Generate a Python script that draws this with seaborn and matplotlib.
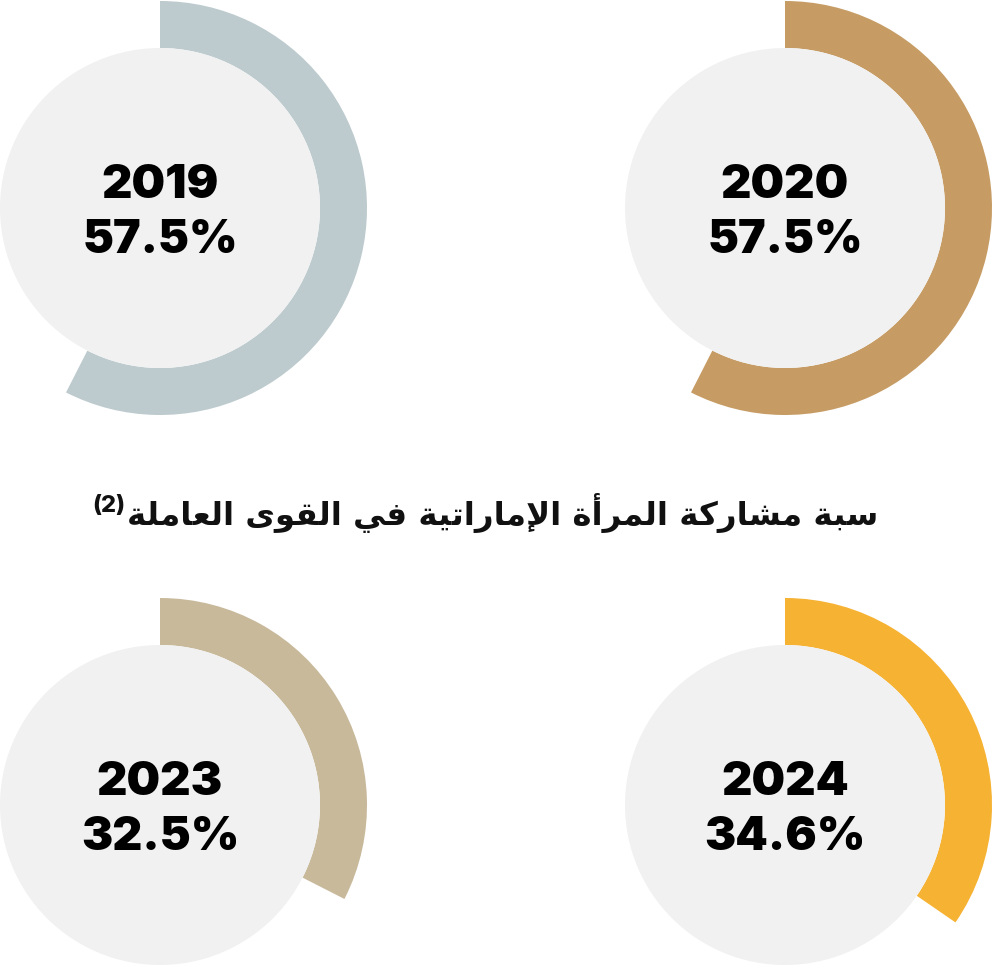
import matplotlib
matplotlib.use("Agg")
import matplotlib.pyplot as plt
import seaborn as sns

# ---------------------------------------------------------
# Data
# ---------------------------------------------------------
years = ["2019", "2020", "2023", "2024"]
shares = [57.5, 57.5, 32.5, 34.6]          # % participation
ring_colors = ["#bdcbce", "#c69c64", "#c8b99b", "#f6b233"]
title = "سبة مشاركة المرأة الإماراتية في القوى العاملة"
note = "(2)"

# ---------------------------------------------------------
# Layout (pixel units, y measured from the top of the image)
# ---------------------------------------------------------
W, H = 992, 965
centers = [(160, 208), (785, 208), (160, 805), (785, 805)]
outer_r, ring_w = 207, 47
inner_r = outer_r - ring_w
inner_color = "#f1f1f1"

# ---------------------------------------------------------
# Minimal Arabic shaping (matplotlib has no bidi / joining support)
# forms: isolated, final, initial, medial (None -> right-joining letter)
# ---------------------------------------------------------
FORMS = {
    "ا": (0xFE8D, 0xFE8E, None, None), "أ": (0xFE83, 0xFE84, None, None),
    "إ": (0xFE87, 0xFE88, None, None), "ة": (0xFE93, 0xFE94, None, None),
    "ر": (0xFEAD, 0xFEAE, None, None), "و": (0xFEED, 0xFEEE, None, None),
    "ى": (0xFEEF, 0xFEF0, None, None),
    "ب": (0xFE8F, 0xFE90, 0xFE91, 0xFE92), "ت": (0xFE95, 0xFE96, 0xFE97, 0xFE98),
    "س": (0xFEB1, 0xFEB2, 0xFEB3, 0xFEB4), "ش": (0xFEB5, 0xFEB6, 0xFEB7, 0xFEB8),
    "ع": (0xFEC9, 0xFECA, 0xFECB, 0xFECC), "ف": (0xFED1, 0xFED2, 0xFED3, 0xFED4),
    "ق": (0xFED5, 0xFED6, 0xFED7, 0xFED8), "ك": (0xFED9, 0xFEDA, 0xFEDB, 0xFEDC),
    "ل": (0xFEDD, 0xFEDE, 0xFEDF, 0xFEE0), "م": (0xFEE1, 0xFEE2, 0xFEE3, 0xFEE4),
    "ي": (0xFEF1, 0xFEF2, 0xFEF3, 0xFEF4),
}
LAM_ALEF = {"ا": (0xFEFB, 0xFEFC), "أ": (0xFEF7, 0xFEF8), "إ": (0xFEF9, 0xFEFA)}


def shape_arabic(text):
    out = []
    i = 0
    while i < len(text):
        c = text[i]
        if c not in FORMS:
            out.append(c)
            i += 1
            continue
        prev = text[i - 1] if i > 0 else None
        joins_prev = prev in FORMS and FORMS[prev][2] is not None
        nxt = text[i + 1] if i + 1 < len(text) else None
        if c == "ل" and nxt in LAM_ALEF:
            iso, fin = LAM_ALEF[nxt]
            out.append(chr(fin if joins_prev else iso))
            i += 2
            continue
        iso, fin, ini, med = FORMS[c]
        joins_next = ini is not None and nxt in FORMS
        if joins_prev and joins_next:
            f = med
        elif joins_prev:
            f = fin
        elif joins_next:
            f = ini
        else:
            f = iso
        out.append(chr(f))
        i += 1
    return "".join(reversed(out))


# ---------------------------------------------------------
# Figure
# ---------------------------------------------------------
sns.set_theme(style="white")
plt.rcParams["font.family"] = ["Inter", "DejaVu Sans"]

fig = plt.figure(figsize=(W / 100, H / 100), dpi=100)
ax = fig.add_axes([0, 0, 1, 1])

for (cx, cy), year, share, color in zip(centers, years, shares, ring_colors):
    y = H - cy
    ax.pie(
        [share, 100 - share],
        colors=[color, "none"],
        startangle=90,
        counterclock=False,
        center=(cx, y),
        radius=outer_r,
        wedgeprops=dict(width=ring_w, linewidth=0),
    )
    ax.add_patch(plt.Circle((cx, y), inner_r, color=inner_color, lw=0, zorder=3))
    ax.text(cx, y + 22, year, ha="center", va="center", fontsize=34,
            fontweight=900, color="black", zorder=4)
    ax.text(cx, y - 33, f"{share:.1f}%", ha="center", va="center", fontsize=33.5,
            fontweight=900, color="black", zorder=4)

t = ax.text(878, H - 513, shape_arabic(title), ha="right", va="center",
            fontsize=23.3, fontweight="bold", family=["DejaVu Sans"], color="#111111")
ax.annotate(note, xy=(0, 1), xycoords=t, xytext=(-1, -1.5), textcoords="offset points",
            ha="right", va="top", fontsize=17, fontweight=800, color="#111111")

ax.set_xlim(0, W)
ax.set_ylim(0, H)
ax.set_aspect("auto")
ax.axis("off")

fig.savefig("out.png", dpi=100, facecolor="white")
